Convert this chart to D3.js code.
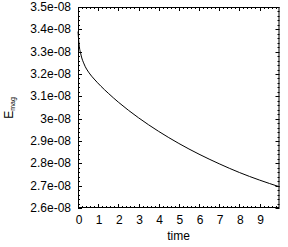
<!DOCTYPE html>
<html lang="en">
<head>
  <meta charset="UTF-8">
  <title>E_mag vs time</title>
  <script src="https://d3js.org/d3.v7.min.js"></script>
  <style>
    body { margin: 0; padding: 0; background: #fff; }
    svg text { font-family: 'Liberation Sans', Arial, sans-serif; fill: #000; }
  </style>
</head>
<body>
  <svg id="chart"></svg>
  <script>
    // data (values in units of 1e-8)
    const times  = [0, 0.05, 0.15, 0.3, 0.55, 0.8, 1.14, 1.5, 2, 3, 4, 5, 6, 7, 8, 9, 9.99];
    const emag   = [3.39, 3.335, 3.285, 3.245, 3.205, 3.1775, 3.145, 3.114, 3.074, 3.004, 2.943, 2.889, 2.841, 2.798, 2.759, 2.725, 2.695];
    const xTicks = [0, 1, 2, 3, 4, 5, 6, 7, 8, 9];
    const yTicks = [2.6, 2.7, 2.8, 2.9, 3.0, 3.1, 3.2, 3.3, 3.4, 3.5];
    const yTickLabels = ["2.6e-08", "2.7e-08", "2.8e-08", "2.9e-08", "3e-08", "3.1e-08", "3.2e-08", "3.3e-08", "3.4e-08", "3.5e-08"];

    const width = 288, height = 247;
    const margin = { left: 78, right: 8.5, top: 7, bottom: 39 };
    const svg = d3.select("#chart").attr("width", width).attr("height", height);

    const x = d3.scaleLinear().domain([0, 9.99]).range([margin.left, width - margin.right]);
    const y = d3.scaleLinear().domain([2.6, 3.5]).range([height - margin.bottom, margin.top]);

    const x0 = x.range()[0], x1 = x.range()[1];
    const y0 = y.range()[0], y1 = y.range()[1];

    // minor ticks
    const xMinor = d3.range(0, 9.99, 0.2).filter(v => Math.abs(v - Math.round(v)) > 1e-6);
    const yMinor = d3.range(2.6, 3.5, 0.02).filter(v => Math.abs(v * 10 - Math.round(v * 10)) > 1e-6);

    const g = svg.append("g").attr("stroke", "#000").attr("stroke-width", 1).attr("fill", "none");

    // x ticks, bottom and top
    xTicks.forEach(v => {
      const px = Math.round(x(v)) + 0.5;
      g.append("line").attr("x1", px).attr("x2", px).attr("y1", y0).attr("y2", y0 - 4);
      g.append("line").attr("x1", px).attr("x2", px).attr("y1", y1).attr("y2", y1 + 4);
    });
    xMinor.forEach(v => {
      const px = Math.round(x(v)) + 0.5;
      g.append("line").attr("x1", px).attr("x2", px).attr("y1", y0).attr("y2", y0 - 2);
      g.append("line").attr("x1", px).attr("x2", px).attr("y1", y1).attr("y2", y1 + 2);
    });
    // y ticks, left and right
    yTicks.forEach(v => {
      const py = Math.round(y(v)) + 0.5;
      g.append("line").attr("x1", x0).attr("x2", x0 + 4).attr("y1", py).attr("y2", py);
      g.append("line").attr("x1", x1).attr("x2", x1 - 4).attr("y1", py).attr("y2", py);
    });
    yMinor.forEach(v => {
      const py = Math.round(y(v)) + 0.5;
      g.append("line").attr("x1", x0).attr("x2", x0 + 2).attr("y1", py).attr("y2", py);
      g.append("line").attr("x1", x1).attr("x2", x1 - 2).attr("y1", py).attr("y2", py);
    });

    // frame
    g.append("rect")
      .attr("x", x0 + 0.5).attr("y", y1 + 0.5)
      .attr("width", x1 - x0 - 1).attr("height", y0 - y1 - 1);

    // curve
    const line = d3.line().x((d, i) => x(times[i])).y(d => y(d)).curve(d3.curveMonotoneX);
    svg.append("path")
      .datum(emag)
      .attr("d", line)
      .attr("fill", "none")
      .attr("stroke", "#000")
      .attr("stroke-width", 1);

    // tick labels
    svg.append("g").selectAll("text").data(xTicks).join("text")
      .attr("x", d => x(d) + 1)
      .attr("y", 224)
      .attr("text-anchor", "middle")
      .attr("font-size", 12)
      .text(d => d);

    svg.append("g").selectAll("text").data(yTicks).join("text")
      .attr("x", 71)
      .attr("y", d => y(d) + 4)
      .attr("text-anchor", "end")
      .attr("font-size", 12)
      .text((d, i) => yTickLabels[i]);

    // axis titles
    svg.append("text")
      .attr("x", 178.5).attr("y", 240)
      .attr("text-anchor", "middle")
      .attr("font-size", 12)
      .text("time");

    const yl = svg.append("text")
      .attr("transform", "translate(12.5,108) rotate(-90)")
      .attr("text-anchor", "middle")
      .attr("font-size", 12);
    yl.append("tspan").text("E");
    yl.append("tspan").attr("font-size", 7).attr("dy", 2.5).text("mag");
  </script>
</body>
</html>
